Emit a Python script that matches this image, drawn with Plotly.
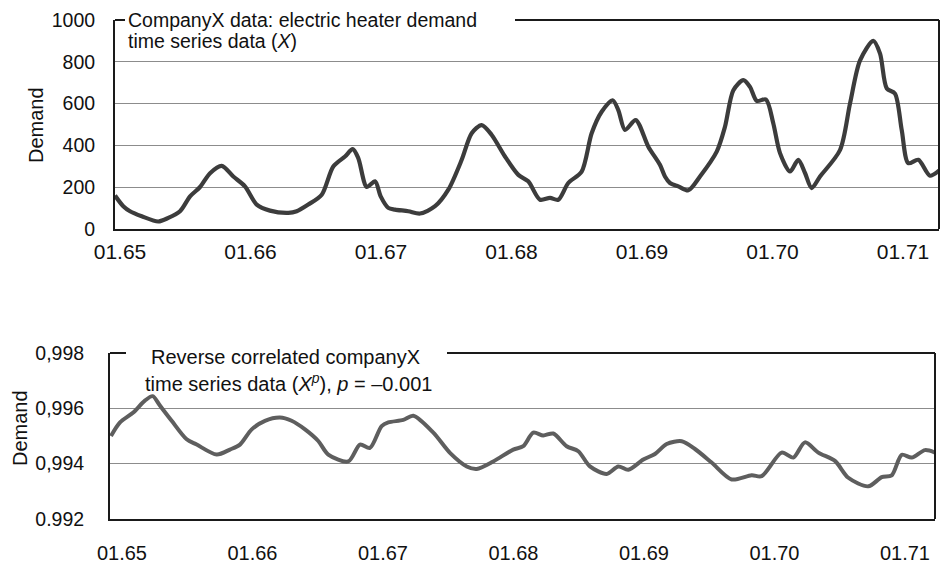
import plotly.graph_objects as go

# ---------------- data ----------------
tick_labels = ["01.65", "01.66", "01.67", "01.68", "01.69", "01.70", "01.71"]
tick_months = [0, 12, 24, 36, 48, 60, 72]

# top series: electric heater demand (month index since 01.65)
top_month = [-0.46, 0.30, 0.92, 2.00, 3.52, 4.44, 5.52, 6.44, 7.36, 8.28, 9.35, 10.42,
             11.49, 12.57, 13.79, 15.48, 16.25, 17.31, 18.55, 19.61, 20.69, 21.40, 21.91,
             22.69, 23.45, 23.97, 24.67, 25.29, 26.51, 27.59, 28.97, 30.19, 31.42, 32.34,
             33.26, 34.18, 35.40, 36.63, 37.54, 38.62, 39.54, 40.30, 41.22, 42.45, 43.37,
             44.29, 45.30, 45.82, 46.44, 47.42, 48.58, 49.65, 50.11, 50.57, 51.34, 52.26,
             53.33, 54.87, 55.63, 56.40, 57.32, 57.93, 58.55, 59.40, 60.07, 60.69, 61.61,
             62.37, 62.99, 63.60, 64.37, 66.21, 67.13, 68.05, 69.27, 69.89, 70.51, 71.26,
             71.88, 72.49, 73.41, 74.48, 75.40]
top_demand = [160, 109, 85, 61, 36, 53, 85, 156, 201, 267, 302, 251,
              204, 117, 88, 77, 85, 117, 164, 299, 347, 382, 339,
              201, 228, 156, 101, 93, 85, 74, 109, 188, 331, 458,
              497, 450, 347, 259, 228, 140, 149, 140, 220, 275, 458,
              561, 616, 569, 474, 521, 394, 307, 251, 220, 204, 185,
              251, 370, 489, 664, 712, 680, 613, 620, 506, 363, 275,
              331, 268, 196, 251, 378, 601, 807, 900, 839, 672, 648,
              474, 315, 331, 255, 283]

# bottom series: reverse correlated series
bot_month = [-1.01, -0.18, 1.04, 2.11, 2.82, 3.49, 4.57, 5.95, 6.87, 8.71, 9.93, 10.85,
             11.93, 13.15, 14.53, 15.60, 16.83, 18.05, 18.97, 20.81, 21.89, 22.80, 23.88,
             24.49, 25.87, 26.79, 28.63, 30.16, 31.70, 32.62, 34.14, 35.98, 36.90, 37.82,
             38.74, 39.66, 40.89, 41.96, 43.03, 44.57, 45.64, 46.56, 47.94, 49.01, 50.09,
             51.47, 52.69, 54.22, 56.06, 57.90, 58.82, 60.66, 61.73, 62.80, 64.03, 65.56,
             66.79, 68.62, 69.86, 70.78, 71.70, 72.62, 73.84, 74.76]
bot_demand = [0.99500, 0.99549, 0.99585, 0.99628, 0.99644, 0.99610, 0.99555, 0.99488,
              0.99469, 0.99433, 0.99451, 0.99469, 0.99524, 0.99555, 0.99567, 0.99555,
              0.99524, 0.99482, 0.99433, 0.99408, 0.99469, 0.99457, 0.99536, 0.99549,
              0.99558, 0.99573, 0.99512, 0.99439, 0.99390, 0.99381, 0.99408, 0.99451,
              0.99463, 0.99512, 0.99502, 0.99509, 0.99463, 0.99445, 0.99390, 0.99363,
              0.99390, 0.99378, 0.99415, 0.99435, 0.99471, 0.99481, 0.99453, 0.99404,
              0.99343, 0.99358, 0.99355, 0.99440, 0.99422, 0.99477, 0.99440, 0.99410,
              0.99349, 0.99318, 0.99351, 0.99358, 0.99432, 0.99422, 0.99449, 0.99440]

top_yticks = [0, 200, 400, 600, 800, 1000]
top_yticktext = ["0", "200", "400", "600", "800", "1000"]
bot_yticks = [0.992, 0.994, 0.996, 0.998]
bot_yticktext = ["0.992", "0,994", "0,996", "0,998"]

# ---------------- figure ----------------
W, H = 940, 564
FONT = "Liberation Sans, Arial, Helvetica, sans-serif"
AXC = "#1a1a1a"

def px(x):
    return x / W

def py(y):
    return 1 - y / H

fig = go.Figure()
fig.add_trace(go.Scatter(x=top_month, y=top_demand, mode="lines",
                         line=dict(color="#3c3c3c", width=4.2, shape="spline", smoothing=0.8),
                         xaxis="x", yaxis="y", showlegend=False, hoverinfo="skip"))
fig.add_trace(go.Scatter(x=bot_month, y=bot_demand, mode="lines",
                         line=dict(color="#5e5e5e", width=4, shape="spline", smoothing=0.8),
                         xaxis="x2", yaxis="y2", showlegend=False, hoverinfo="skip"))

top_dom_x = [px(115), px(939)]
top_dom_y = [py(229), py(20)]
bot_dom_x = [px(110), px(935)]
bot_dom_y = [py(519), py(353)]

fig.update_layout(
    width=W, height=H,
    margin=dict(l=0, r=0, t=0, b=0, autoexpand=False),
    paper_bgcolor="white", plot_bgcolor="white",
    font=dict(family=FONT, color="#111111"),
    xaxis=dict(domain=top_dom_x, range=[-0.46, 75.31], anchor="y", automargin=False,
               tickvals=tick_months, ticktext=tick_labels, showgrid=False,
               zeroline=False, showline=True, linecolor=AXC, linewidth=2,
               ticks="", ticklabelstandoff=3, tickfont=dict(size=21, color="#111")),
    yaxis=dict(domain=top_dom_y, range=[0, 1000], anchor="x", automargin=False,
               tickvals=top_yticks, ticktext=top_yticktext,
               showgrid=True, gridcolor="#8c8c8c", gridwidth=1,
               zeroline=False, showline=True, linecolor=AXC, linewidth=2,
               ticks="", ticklabelstandoff=14, tickfont=dict(size=19.5, color="#111")),
    xaxis2=dict(domain=bot_dom_x, range=[-1.10, 74.76], anchor="y2", automargin=False,
                tickvals=tick_months, ticktext=tick_labels, showgrid=False,
                zeroline=False, showline=True, linecolor=AXC, linewidth=2,
                ticks="", ticklabelstandoff=15, tickfont=dict(size=20, color="#111")),
    yaxis2=dict(domain=bot_dom_y, range=[0.992, 0.998], anchor="x2", automargin=False,
                tickvals=bot_yticks, ticktext=bot_yticktext,
                showgrid=True, gridcolor="#8c8c8c", gridwidth=1,
                zeroline=False, showline=True, linecolor=AXC, linewidth=2,
                ticks="", ticklabelstandoff=20, tickfont=dict(size=19.5, color="#111")),
)

# frame pieces (right border and broken top border)
shapes = []
# top chart
shapes.append(dict(type="line", xref="x domain", yref="y domain", x0=1, x1=1, y0=0, y1=1,
                   line=dict(color=AXC, width=2)))
shapes.append(dict(type="line", xref="x domain", yref="y domain", x0=0, x1=(125 - 115) / 824, y0=1, y1=1,
                   line=dict(color=AXC, width=2)))
shapes.append(dict(type="line", xref="x domain", yref="y domain", x0=(515 - 115) / 824, x1=1, y0=1, y1=1,
                   line=dict(color=AXC, width=2)))
# bottom chart
shapes.append(dict(type="line", xref="x2 domain", yref="y2 domain", x0=1, x1=1, y0=0, y1=1,
                   line=dict(color=AXC, width=2)))
shapes.append(dict(type="line", xref="x2 domain", yref="y2 domain", x0=0, x1=(126 - 110) / 825, y0=1, y1=1,
                   line=dict(color=AXC, width=2)))
shapes.append(dict(type="line", xref="x2 domain", yref="y2 domain", x0=(447 - 110) / 825, x1=1, y0=1, y1=1,
                   line=dict(color=AXC, width=2)))
fig.update_layout(shapes=shapes)

ann = []
# top title (two lines, left aligned)
ann.append(dict(text="CompanyX data: electric heater demand", xref="paper", yref="paper",
                x=px(126), y=py(20), xanchor="left", yanchor="middle", showarrow=False,
                font=dict(size=19.5, family=FONT, color="#111")))
ann.append(dict(text="time series data (<i>X</i>)", xref="paper", yref="paper",
                x=px(126), y=py(41.5), xanchor="left", yanchor="middle", showarrow=False,
                font=dict(size=19.5, family=FONT, color="#111")))
# bottom title (two lines, centered)
ann.append(dict(text="Reverse correlated companyX", xref="paper", yref="paper",
                x=px(285), y=py(357), xanchor="center", yanchor="middle", showarrow=False,
                font=dict(size=20, family=FONT, color="#111")))
ann.append(dict(text="time series data (<i>X</i><sup><i>p</i></sup>), <i>p</i> = \u20130.001",
                xref="paper", yref="paper",
                x=px(288), y=py(382), xanchor="center", yanchor="middle", showarrow=False,
                font=dict(size=20, family=FONT, color="#111")))
# y-axis titles
ann.append(dict(text="Demand", xref="paper", yref="paper", x=px(36), y=py(125),
                xanchor="center", yanchor="middle", textangle=-90, showarrow=False,
                font=dict(size=20, family=FONT, color="#111")))
ann.append(dict(text="Demand", xref="paper", yref="paper", x=px(20), y=py(428),
                xanchor="center", yanchor="middle", textangle=-90, showarrow=False,
                font=dict(size=20, family=FONT, color="#111")))
fig.update_layout(annotations=ann)

fig.write_html("out.html")
